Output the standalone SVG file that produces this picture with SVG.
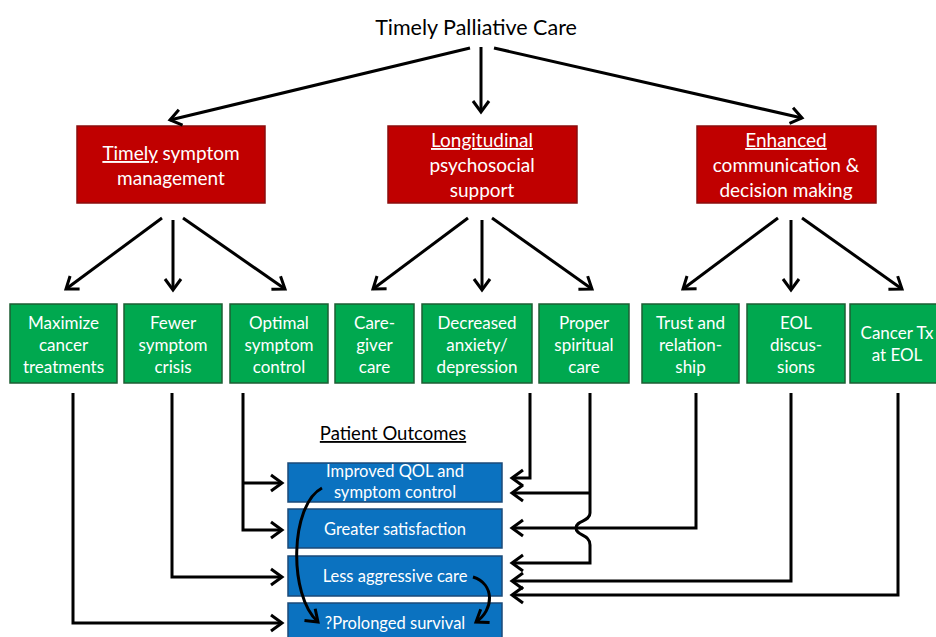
<svg xmlns="http://www.w3.org/2000/svg" width="936" height="637" viewBox="0 0 936 637">
<defs>
<marker id="ah" markerUnits="userSpaceOnUse" viewBox="-14 -10 16 20" markerWidth="16" markerHeight="20" refX="0" refY="0" orient="auto" overflow="visible">
<path d="M-11,-8 L0,0 L-11,8" fill="none" stroke="#000" stroke-width="3"/>
</marker>
<style>
text{font-family:Lato,"Liberation Sans",sans-serif;fill:#fff;text-anchor:middle}
.title{fill:#000;font-size:21.5px}
.red rect{fill:#C00000;stroke:#8a0d0d;stroke-width:1.5}
.red text{font-size:19px}
.green rect{fill:#00A84F;stroke:#1d5e33;stroke-width:1.5}
.green text{font-size:17px}
.blue rect{fill:#0B72C0;stroke:#1b4a78;stroke-width:1.5}
.blue text{font-size:16.5px}
.u{text-decoration:underline}
#connectors path{fill:none;stroke:#000;stroke-width:3}
.ar{marker-end:url(#ah)}
</style>
</defs>
<rect width="936" height="637" fill="#fff"/>

<g id="title"><text class="title" x="476" y="35">Timely Palliative Care</text></g>

<g id="r1" class="red"><rect x="77" y="126" width="188" height="77"/>
<text x="171" y="160"><tspan class="u">Timely</tspan> symptom</text><text x="171" y="185">management</text></g>
<g id="r2" class="red"><rect x="388" y="126" width="189" height="77"/>
<text x="482" y="147" class="u">Longitudinal</text><text x="482" y="172">psychosocial</text><text x="482" y="197">support</text></g>
<g id="r3" class="red"><rect x="697" y="126" width="179" height="77"/>
<text x="786" y="147" class="u">Enhanced</text><text x="786" y="172">communication &amp;</text><text x="786" y="197">decision making</text></g>

<g id="g1" class="green"><rect x="10" y="304" width="107" height="79"/>
<text x="63.5" y="329">Maximize</text><text x="63.5" y="351">cancer</text><text x="63.5" y="373">treatments</text></g>
<g id="g2" class="green"><rect x="124" y="304" width="98" height="79"/>
<text x="173" y="329">Fewer</text><text x="173" y="351">symptom</text><text x="173" y="373">crisis</text></g>
<g id="g3" class="green"><rect x="230" y="304" width="98" height="79"/>
<text x="279" y="329">Optimal</text><text x="279" y="351">symptom</text><text x="279" y="373">control</text></g>
<g id="g4" class="green"><rect x="335" y="304" width="79" height="79"/>
<text x="374.5" y="329">Care-</text><text x="374.5" y="351">giver</text><text x="374.5" y="373">care</text></g>
<g id="g5" class="green"><rect x="422" y="304" width="110" height="79"/>
<text x="477" y="329">Decreased</text><text x="477" y="351">anxiety/</text><text x="477" y="373">depression</text></g>
<g id="g6" class="green"><rect x="539" y="304" width="90" height="79"/>
<text x="584" y="329">Proper</text><text x="584" y="351">spiritual</text><text x="584" y="373">care</text></g>
<g id="g7" class="green"><rect x="642" y="304" width="97" height="79"/>
<text x="690.5" y="329">Trust and</text><text x="690.5" y="351">relation-</text><text x="690.5" y="373">ship</text></g>
<g id="g8" class="green"><rect x="747" y="304" width="98" height="79"/>
<text x="796" y="329">EOL</text><text x="796" y="351">discus-</text><text x="796" y="373">sions</text></g>
<g id="g9" class="green"><rect x="850" y="304" width="96" height="79"/>
<text x="897" y="339">Cancer Tx</text><text x="897" y="361">at EOL</text></g>

<g id="outcomes-label"><text x="393" y="440" class="u" style="fill:#000;font-size:18.5px">Patient Outcomes</text></g>

<g id="b1" class="blue"><rect x="288" y="463" width="214" height="39"/>
<text x="395" y="477">Improved QOL and</text><text x="395" y="498">symptom control</text></g>
<g id="b2" class="blue"><rect x="288" y="509" width="214" height="39"/>
<text x="395" y="535">Greater satisfaction</text></g>
<g id="b3" class="blue"><rect x="288" y="556" width="214" height="40"/>
<text x="395" y="582">Less aggressive care</text></g>
<g id="b4" class="blue"><rect x="288" y="603" width="214" height="40"/>
<text x="395" y="629">?Prolonged survival</text></g>

<g id="connectors">
<path class="ar" d="M470,48 L170,120"/>
<path class="ar" d="M481,47 L481,112"/>
<path class="ar" d="M494,48 L802,118"/>

<path class="ar" d="M162,218 L66,289"/>
<path class="ar" d="M173,220 V290"/>
<path class="ar" d="M183,218 L285,289"/>
<path class="ar" d="M468,218 L373,289"/>
<path class="ar" d="M482,220 V290"/>
<path class="ar" d="M492,218 L592,289"/>
<path class="ar" d="M778,218 L683,289"/>
<path class="ar" d="M791,220 V290"/>
<path class="ar" d="M802,218 L902,289"/>

<path class="ar" d="M73,393 V623 H282"/>
<path class="ar" d="M172,393 V577 H282"/>
<path class="ar" d="M243,393 V530 H282"/>
<path class="ar" d="M243,483 H282"/>

<path class="ar" d="M530,393 V478 H512"/>
<path class="ar" d="M590,493 H512"/>
<path class="ar" d="M590,393 V513 C590,522 576,520 576,528 C576,536 590,534 590,545 V563 H512"/>
<path class="ar" d="M696,393 V528 H512"/>
<path class="ar" d="M791,393 V581 H512"/>
<path class="ar" d="M898,393 V595 H512"/>

<path class="ar" d="M322,488 C290,505 288,595 318,622"/>
<path class="ar" d="M473,577 C495,584 494,610 476,622"/>
</g>
</svg>
